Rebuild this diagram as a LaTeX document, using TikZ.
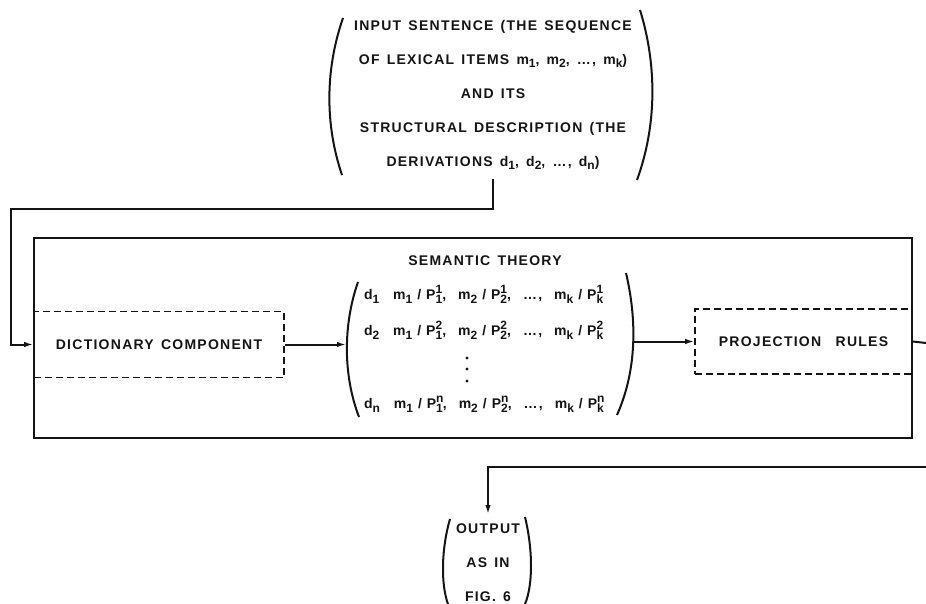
\documentclass[tikz,border=0pt]{standalone}
\usepackage{fontspec}
\setmainfont{Liberation Sans}[LetterSpace=9,WordSpace=1.4]
\usetikzlibrary{arrows.meta,positioning}
\definecolor{InkBlack}{RGB}{20,20,20}
% lettering with subscript / sub+superscript
\newcommand{\idx}[1]{{\fontsize{12}{10}\selectfont#1}}
\newcommand{\lx}[2]{#1\raisebox{-0.45ex}{\idx{#2}}}
\newcommand{\lxp}[3]{#1\rlap{\raisebox{0.9ex}{\idx{#3}}}\raisebox{-0.45ex}{\idx{#2}}}
\newcommand{\sep}{\kern5pt/\kern5pt}
\newcommand{\nx}{,\hspace{12pt}}

\begin{document}
\begin{tikzpicture}[x=1pt,y=-1pt,>={Latex[length=9pt,width=5.5pt]},
    line width=2pt,InkBlack,
    every node/.style={font=\fontsize{14}{34}\selectfont\bfseries,inner sep=0pt},
    dashbox/.style={draw,dash pattern=on 7pt off 4pt,line width=1.6pt}]
  \useasboundingbox (0,0) rectangle (926,604);
  % input sentence
  \node[align=center,inner ysep=8pt] (input) at (493,95)
    {INPUT SENTENCE (THE SEQUENCE\\
     OF LEXICAL ITEMS \lx{m}{1}, \lx{m}{2}, \dots, \lx{m}{k})\\
     AND ITS\\
     STRUCTURAL DESCRIPTION (THE\\
     DERIVATIONS \lx{d}{1}, \lx{d}{2}, \dots, \lx{d}{n})};
  \draw (343,18) .. controls (325,70) and (325,125) .. (342,175);
  \draw (640,10) .. controls (657,65) and (657,125) .. (637,180);
  % semantic theory
  \node[draw,minimum width=878,minimum height=200] (theory) at (473,338) {};
  \node (semlabel) at (485,261) {SEMANTIC THEORY};
  \node[dashbox,minimum width=250,minimum height=66] (dict) at (159,344.5)
    {DICTIONARY COMPONENT};
  \node[dashbox,minimum width=217,minimum height=65] (proj) at (803.5,341.5)
    {PROJECTION \ RULES};
  \node[minimum width=285,minimum height=140] (mat) at (489.5,348) {};
  \node[anchor=west] (rowa) at (363,294)
    {\lx{d}{1}\hspace{14pt}\lx{m}{1}\sep\lxp{P}{1}{1}\nx\lx{m}{2}\sep\lxp{P}{2}{1}\nx\dots\nx\lx{m}{k}\sep\lxp{P}{k}{1}};
  \node[anchor=west] (rowb) at (363,330)
    {\lx{d}{2}\hspace{14pt}\lx{m}{1}\sep\lxp{P}{1}{2}\nx\lx{m}{2}\sep\lxp{P}{2}{2}\nx\dots\nx\lx{m}{k}\sep\lxp{P}{k}{2}};
  \node[anchor=west] (rown) at (363,404)
    {\lx{d}{n}\hspace{14pt}\lx{m}{1}\sep\lxp{P}{1}{n}\nx\lx{m}{2}\sep\lxp{P}{2}{n}\nx\dots\nx\lx{m}{k}\sep\lxp{P}{k}{n}};
  \foreach \y in {358,369,381}
    \fill (467,\y) circle (1.7pt);
  \draw (358,282) .. controls (343,325) and (343,375) .. (359,417);
  \draw (626,273) .. controls (637,320) and (637,370) .. (617,415);
  % output
  \node[align=center,inner ysep=9pt] (output) at (488,563)
    {OUTPUT\\AS IN\\FIG. 6};
  \draw (450,519) .. controls (441,550) and (441,585) .. (448,604);
  \draw (525,517) .. controls (533,550) and (533,585) .. (525,604);
  % connectors
  \coordinate (turnL) at (11,209);
  \coordinate (exitR) at (926,343);
  \coordinate (backR) at (926,467);
  \draw[->] (input.south) |- (turnL) |- (dict.west);
  \draw[->] (dict.east) -- (dict.east -| mat.west);
  \draw[->] (mat.east |- proj.west) -- (proj.west);
  \draw (proj.east) -- (exitR);
  \draw[->] (backR) -| (output.north);
\end{tikzpicture}
\end{document}
